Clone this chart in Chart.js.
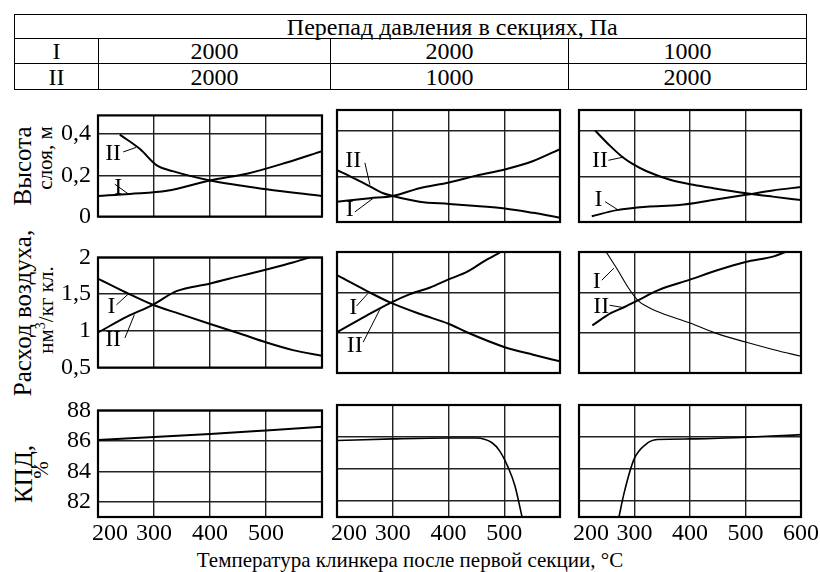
<!DOCTYPE html>
<html>
<head>
<meta charset="utf-8">
<script src="https://cdn.jsdelivr.net/npm/chart.js@4.4.1/dist/chart.umd.min.js"></script>
<style>
  body { margin: 0; background: #fff; width: 820px; height: 572px; position: relative; overflow: hidden;
         font-family: "Liberation Serif", serif; color: #000; }
  table { position: absolute; left: 14px; top: 14px; width: 792px; border-collapse: collapse; font-size: 24px; table-layout: fixed; }
  td { border: 1.5px solid #000; text-align: center; padding: 0; line-height: 22px; }
  .rot { position: absolute; white-space: nowrap; transform: translate(-50%, -50%) rotate(-90deg); line-height: 1; }
  .big { font-size: 25px; }
  .small { font-size: 21px; }
  canvas { position: absolute; }
  .xtitle { position: absolute; left: 0; width: 820px; top: 548px; text-align: center; font-size: 21px; }
</style>
</head>
<body>
<table>
  <colgroup><col style="width:84px"><col style="width:232px"><col style="width:238px"><col style="width:238px"></colgroup>
  <tr style="height:24px"><td style="border-right:hidden"></td><td colspan="3">Перепад давления в секциях, Па</td></tr>
  <tr style="height:25px"><td>I</td><td>2000</td><td>2000</td><td>1000</td></tr>
  <tr style="height:26px"><td>II</td><td>2000</td><td>1000</td><td>2000</td></tr>
</table>

<div class="rot big" style="left:22px; top:166px">Высота</div>
<div class="rot small" style="left:45px; top:158px">слоя, м</div>
<div class="rot big" style="left:22px; top:313px">Расход воздуха,</div>
<div class="rot small" style="left:45px; top:310px">нм<sup style="font-size:14px">3</sup>/кг кл.</div>
<div class="rot big" style="left:23px; top:474px">КПД,</div>
<div class="rot small" style="left:41px; top:470px">%</div>
<div class="xtitle">Температура клинкера после первой секции, °С</div>

<script>
// temperature of clinker after first section, °C
// row 1 — bed height, m
const hT_I_1 = [200, 257, 323, 400, 468, 537, 600];
const hV_I_1 = [0.10, 0.11, 0.125, 0.175, 0.209, 0.262, 0.317];
const hT_II_1 = [239, 275, 305, 335, 400, 454, 501, 600];
const hV_II_1 = [0.397, 0.327, 0.248, 0.219, 0.175, 0.151, 0.132, 0.10];

const hT_I_2 = [200, 259, 300, 348, 401, 450, 501, 552, 600];
const hV_I_2 = [0.089, 0.104, 0.114, 0.148, 0.173, 0.203, 0.23, 0.267, 0.319];
const hT_II_2 = [200, 229, 259, 283, 300, 348, 401, 450, 501, 552, 600];
const hV_II_2 = [0.227, 0.193, 0.156, 0.126, 0.114, 0.089, 0.079, 0.07, 0.059, 0.04, 0.019];

const hT_I_3 = [223, 268, 322, 381, 441, 501, 549, 600];
const hV_I_3 = [0.025, 0.052, 0.067, 0.074, 0.096, 0.119, 0.138, 0.153];
const hT_II_3 = [229, 256, 280, 298, 322, 364, 406, 442, 501, 549, 600];
const hV_II_3 = [0.40, 0.333, 0.281, 0.252, 0.222, 0.185, 0.163, 0.148, 0.126, 0.111, 0.096];

// row 2 — air flow, nm3/kg clinker
const aT_I_1 = [200, 251, 298, 346, 399, 453, 501, 548, 600];
const aV_I_1 = [1.712, 1.519, 1.355, 1.231, 1.096, 0.964, 0.841, 0.738, 0.66];
const aT_II_1 = [200, 251, 298, 340, 399, 453, 501, 548, 578];
const aV_II_1 = [0.977, 1.19, 1.355, 1.54, 1.642, 1.745, 1.836, 1.93, 2.0];

const aT_I_2 = [200, 253, 295, 349, 401, 433, 501, 552, 600];
const aV_I_2 = [1.712, 1.519, 1.375, 1.231, 1.108, 1.005, 0.82, 0.726, 0.644];
const aT_II_2 = [200, 253, 295, 331, 367, 401, 433, 462, 492];
const aV_II_2 = [1.005, 1.211, 1.367, 1.478, 1.56, 1.663, 1.753, 1.877, 1.992];

const aT_I_3 = [249, 270, 288, 306, 324, 348, 400, 449, 500, 551, 600];
const aV_I_3 = [2.0, 1.773, 1.566, 1.40, 1.318, 1.244, 1.12, 0.988, 0.884, 0.789, 0.707];
const aT_II_3 = [224, 258, 282, 306, 342, 400, 449, 500, 551, 572];
const aV_II_3 = [1.091, 1.244, 1.318, 1.40, 1.525, 1.657, 1.773, 1.876, 1.946, 2.0];

// row 3 — efficiency, %
const eT_1 = [200, 300, 400, 500, 600];
const eV_1 = [86.05, 86.25, 86.45, 86.68, 86.92];
const eT_2 = [200, 300, 400, 449, 478, 492, 507, 519, 532];
const eV_2 = [85.78, 85.88, 85.94, 85.94, 85.64, 85.12, 84.1, 82.97, 81.0];
const eT_3 = [272, 281, 299, 320, 341, 402, 501, 600];
const eV_3 = [81.0, 82.46, 84.6, 85.53, 85.84, 85.88, 85.98, 86.15];

// axes
const yTicksByRow = [[0, 0.2, 0.4], [0.5, 1, 1.5, 2], [82, 84, 86, 88]];
const yRangeByRow = [[0, 0.49], [0.5, 2], [81, 88]];
const xTickLabels = [200, 300, 400, 500];
const xTickLabelsLast = [200, 300, 400, 500, 600];

const colBox = [[98, 322], [337, 560], [579, 801]];
const rowBox = [[110, 222], [252, 373], [405, 517]];
const serif = '"Liberation Serif", serif';

const panels = [
  { row: 0, col: 0, series: [[hT_I_1, hV_I_1], [hT_II_1, hV_II_1]],
    names: [['II', 227, 0.304], ['I', 236, 0.139]],
    leaders: [[245, 0.313, 268, 0.335], [230, 0.157, 254, 0.11]] },
  { row: 0, col: 1, series: [[hT_I_2, hV_I_2], [hT_II_2, hV_II_2]],
    names: [['II', 229, 0.267], ['I', 223, 0.052]],
    leaders: [[250, 0.259, 259, 0.163], [232, 0.044, 265, 0.104]] },
  { row: 0, col: 2, series: [[hT_I_3, hV_I_3], [hT_II_3, hV_II_3]],
    names: [['II', 238, 0.267], ['I', 235, 0.096]],
    leaders: [[253, 0.27, 280, 0.284], [247, 0.089, 271, 0.052]] },
  { row: 1, col: 0, series: [[aT_I_1, aV_I_1], [aT_II_1, aV_II_1]],
    names: [['I', 224, 1.334], ['II', 227, 0.882]],
    leaders: [[233, 1.355, 254, 1.5], [248, 0.903, 265, 1.22]] },
  { row: 1, col: 1, series: [[aT_I_2, aV_I_2], [aT_II_2, aV_II_2]],
    names: [['I', 229, 1.314], ['II', 232, 0.841]],
    leaders: [[235, 1.33, 256, 1.49], [247, 0.882, 277, 1.29]] },
  { row: 1, col: 2, series: [[aT_I_3, aV_I_3, 1.1], [aT_II_3, aV_II_3]],
    names: [['I', 232, 1.628], ['II', 240, 1.318]],
    leaders: [[241, 1.65, 263, 1.8], [255, 1.34, 281, 1.31]] },
  { row: 2, col: 0, series: [[eT_1, eV_1]], names: [], leaders: [] },
  { row: 2, col: 1, series: [[eT_2, eV_2, 1.6]], names: [], leaders: [] },
  { row: 2, col: 2, series: [[eT_3, eV_3, 1.6]], names: [], leaders: [] },
];

const panelDeco = {
  id: 'panelDeco',
  afterDraw(chart, args, opts) {
    const { ctx, chartArea: a, scales: { x, y } } = chart;
    ctx.save();
    ctx.strokeStyle = '#000';
    ctx.lineWidth = 2.2;
    ctx.strokeRect(a.left, a.top, a.right - a.left, a.bottom - a.top);
    ctx.lineWidth = 1;
    opts.leaders.forEach(l => {
      ctx.beginPath();
      ctx.moveTo(x.getPixelForValue(l[0]), y.getPixelForValue(l[1]));
      ctx.lineTo(x.getPixelForValue(l[2]), y.getPixelForValue(l[3]));
      ctx.stroke();
    });
    ctx.fillStyle = '#000';
    ctx.font = '24px ' + serif;
    ctx.textAlign = 'center';
    ctx.textBaseline = 'middle';
    opts.names.forEach(n => {
      ctx.fillText(n[0], x.getPixelForValue(n[1]), y.getPixelForValue(n[2]));
    });
    if (opts.xLabels) {
      ctx.font = '24px ' + serif;
      opts.xLabels.forEach(v => {
        const shift = v === 200 ? 12 : 0;
        ctx.fillText(String(v), x.getPixelForValue(v) + shift, a.bottom + 17);
      });
    }
    ctx.restore();
  }
};

panels.forEach(p => {
  const [L, R] = colBox[p.col];
  const [T, B] = rowBox[p.row];
  const axisW = p.col === 0 ? 70 : 0;
  const pad = { left: 16, right: 18, top: 16, bottom: p.row === 2 ? 40 : 16 };
  const w = pad.left + axisW + (R - L) + pad.right;
  const h = pad.top + (B - T) + pad.bottom;

  const canvas = document.createElement('canvas');
  canvas.width = w;
  canvas.height = h;
  canvas.style.left = (L - axisW - pad.left) + 'px';
  canvas.style.top = (T - pad.top) + 'px';
  canvas.style.width = w + 'px';
  canvas.style.height = h + 'px';
  document.body.append(canvas);

  const gridStyle = { color: '#222', lineWidth: 1.4, drawTicks: false };

  new Chart(canvas, {
    type: 'line',
    data: {
      datasets: p.series.map(s => ({
        data: s[0].map((t, k) => ({ x: t, y: s[1][k] })),
        borderColor: '#000',
        borderWidth: s[2] || 2,
        pointRadius: 0,
        cubicInterpolationMode: 'monotone',
        fill: false,
      })),
    },
    options: {
      responsive: false,
      animation: false,
      events: [],
      layout: { padding: pad },
      plugins: {
        legend: { display: false },
        tooltip: { enabled: false },
        panelDeco: {
          names: p.names,
          leaders: p.leaders,
          xLabels: p.row === 2 ? (p.col === 2 ? xTickLabelsLast : xTickLabels) : null,
        },
      },
      scales: {
        x: {
          type: 'linear', min: 200, max: 600,
          ticks: { display: false, stepSize: 100 },
          grid: gridStyle,
          border: { display: false },
          afterFit: s => { s.height = 0; },
        },
        y: {
          type: 'linear', min: yRangeByRow[p.row][0], max: yRangeByRow[p.row][1],
          afterBuildTicks: s => { s.ticks = yTicksByRow[p.row].map(v => ({ value: v })); },
          ticks: {
            display: p.col === 0,
            padding: 7,
            color: '#000',
            font: { family: serif, size: 24 },
            callback: v => String(v).replace('.', ','),
          },
          grid: gridStyle,
          border: { display: false },
          afterFit: s => { s.width = axisW; },
        },
      },
    },
    plugins: [panelDeco],
  });
});
</script>
</body>
</html>
